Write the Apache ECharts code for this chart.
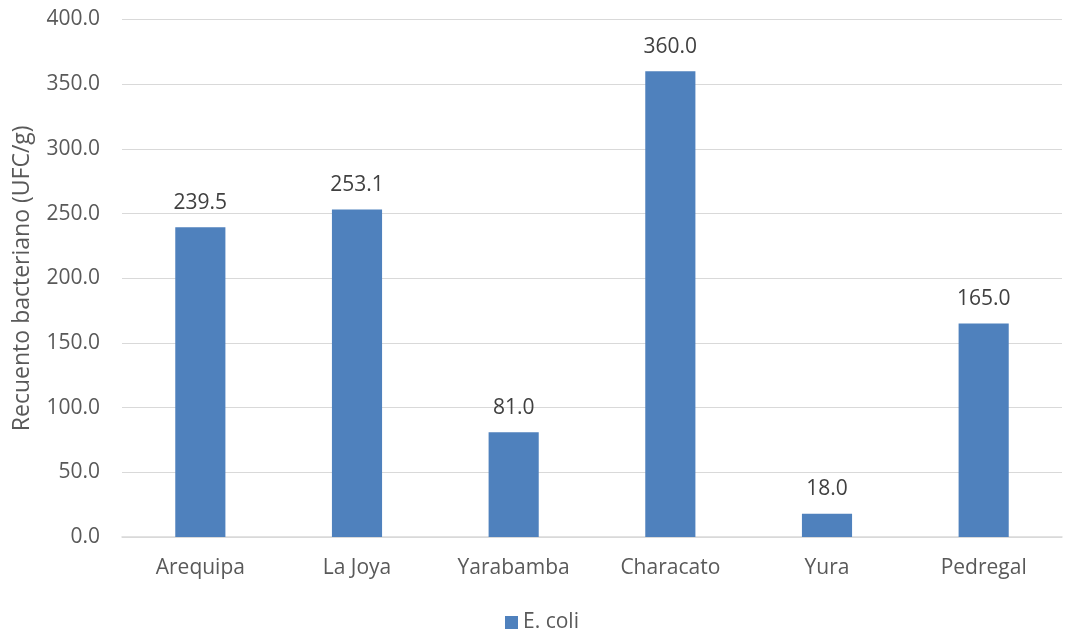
<!DOCTYPE html>
<html><head><meta charset="utf-8">
<script src="https://cdn.jsdelivr.net/npm/echarts@6/dist/echarts.min.js"></script>
<style>html,body{margin:0;padding:0;background:#fff}#c{width:1065px;height:632px}</style>
</head><body><div id="c"></div>
<script>
const categories = ["Arequipa","La Joya","Yarabamba","Characato","Yura","Pedregal"];
const ecoli = [239.5, 253.1, 81.0, 360.0, 18.0, 165.0];
const seriesName = "E. coli";
const yAxisTitle = "Recuento bacteriano (UFC/g)";

const font = "Open Sans";
const chart = echarts.init(document.getElementById('c'));
chart.setOption({
  animation:false,
  textStyle:{fontFamily:font},
  grid:{left:122,right:3,top:19.5,bottom:95,containLabel:false},
  legend:{top:607,left:500,itemWidth:13,itemHeight:13,icon:'rect',itemGap:6,
    textStyle:{fontFamily:font,fontSize:21,color:'#595959'},data:[seriesName]},
  xAxis:{type:'category',data:categories,
    axisLine:{lineStyle:{color:'#d9d9d9',width:1.5}},axisTick:{show:false},
    axisLabel:{fontFamily:font,fontSize:21,color:'#595959',margin:21}},
  yAxis:{type:'value',min:0,max:400,interval:50,
    name:yAxisTitle,nameLocation:'middle',nameGap:88,
    nameTextStyle:{fontFamily:font,fontSize:23,color:'#595959'},
    axisLine:{show:false},axisTick:{show:false},
    splitLine:{lineStyle:{color:'#d9d9d9',width:1}},
    axisLabel:{fontFamily:font,fontSize:21,color:'#595959',margin:22,formatter:v=>v.toFixed(1)}},
  series:[{name:seriesName,type:'bar',data:ecoli,barWidth:'32%',
    itemStyle:{color:'#4f81bd'},
    label:{show:true,position:'top',distance:14,fontFamily:font,fontSize:21,color:'#404040',
      formatter:p=>p.value.toFixed(1)}}]
});
</script></body></html>
